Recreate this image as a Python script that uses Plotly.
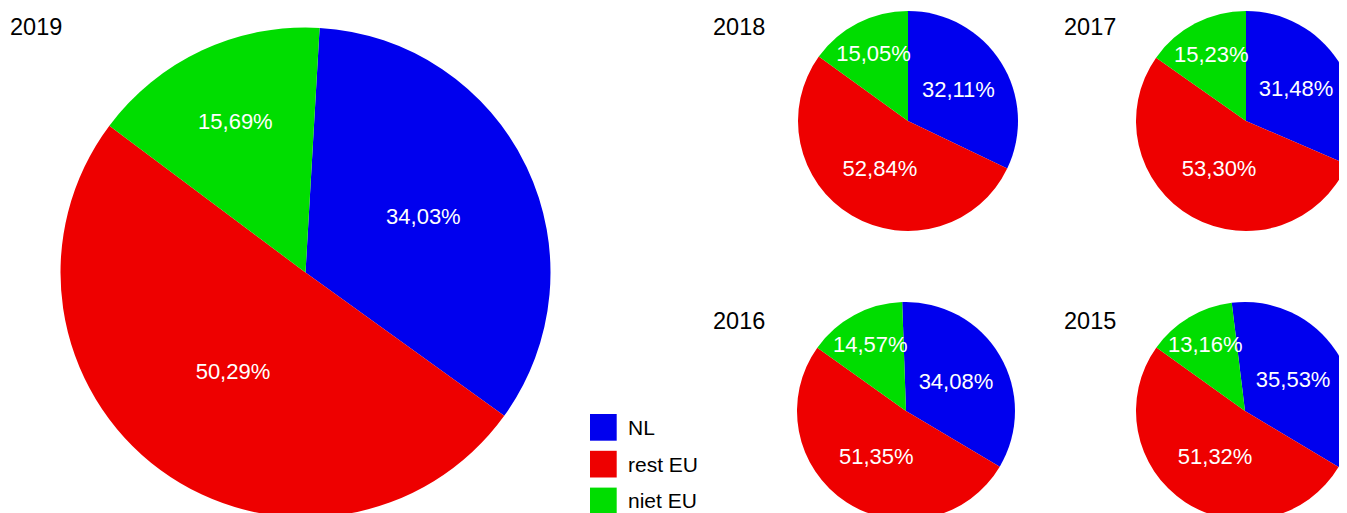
import plotly.graph_objects as go

years = ["2019", "2018", "2017", "2016", "2015"]
categories = ["NL", "rest EU", "niet EU"]
nl = [34.03, 32.11, 31.48, 34.08, 35.53]
rest_eu = [50.29, 52.84, 53.30, 51.35, 51.32]
niet_eu = [15.69, 15.05, 15.23, 14.57, 13.16]

colors = ["#0000EE", "#EE0000", "#00DD00"]

# the page shows the figure offset by the body margin
OFF = 8
W, H = 1360, 520
FONT = "Liberation Sans, Arial, sans-serif"

# pie placement in screen pixels: (cx, cy, r) and start rotation (style)
placement = [
    (305.5, 272.5, 245),
    (908, 121, 110),
    (1246, 121, 110),
    (906, 411, 109),
    (1245, 411, 109),
]
rotations = [3.3, 0, 0, -2, -7]
title_pos = [(10, 28), (713, 28), (1064, 28), (713, 322), (1064, 322)]


def px(x):
    return (x - OFF) / W


def py(y):
    return 1 - (y - OFF) / H


def clamp(v):
    return max(0.0, min(1.0, v))


fig = go.Figure()
for i, yr in enumerate(years):
    cx, cy, r = placement[i]
    dx = [clamp(px(cx - r)), clamp(px(cx + r))]
    dy = [clamp(py(cy + r)), clamp(py(cy - r))]
    fig.add_trace(go.Pie(
        labels=categories,
        values=[nl[i], rest_eu[i], niet_eu[i]],
        sort=False,
        direction="clockwise",
        rotation=rotations[i],
        marker=dict(colors=colors, line=dict(width=0)),
        texttemplate="%{value:.2f}%",
        textposition="inside",
        insidetextorientation="horizontal",
        textfont=dict(color="white", size=22, family=FONT),
        domain=dict(x=dx, y=dy),
        showlegend=False,
        hoverinfo="label+value",
    ))
    tx, ty = title_pos[i]
    fig.add_annotation(
        x=px(tx - 2), y=py(ty - 1), xref="paper", yref="paper",
        text=yr, showarrow=False, xanchor="left", yanchor="middle",
        font=dict(size=23.5, color="black", family=FONT),
    )

# legend drawn as squares + labels
leg_x0, leg_y0, sq, step = 590, 414, 26.7, 36.8
for j, cat in enumerate(categories):
    y_top = leg_y0 + j * step
    fig.add_shape(
        type="rect", xref="paper", yref="paper",
        x0=px(leg_x0), x1=px(leg_x0 + sq),
        y0=py(y_top + sq), y1=py(y_top),
        fillcolor=colors[j], line=dict(width=0),
    )
    fig.add_annotation(
        x=px(leg_x0 + sq + 9), y=py(y_top + sq / 2),
        xref="paper", yref="paper", text=cat, showarrow=False,
        xanchor="left", yanchor="middle",
        font=dict(size=21, color="black", family=FONT),
    )

fig.update_layout(
    width=W, height=H,
    margin=dict(l=0, r=0, t=0, b=0),
    paper_bgcolor="white", plot_bgcolor="white",
    separators=",.",
    uniformtext=dict(minsize=22, mode="show"),
)

fig.write_html("out.html", config={"responsive": False})
